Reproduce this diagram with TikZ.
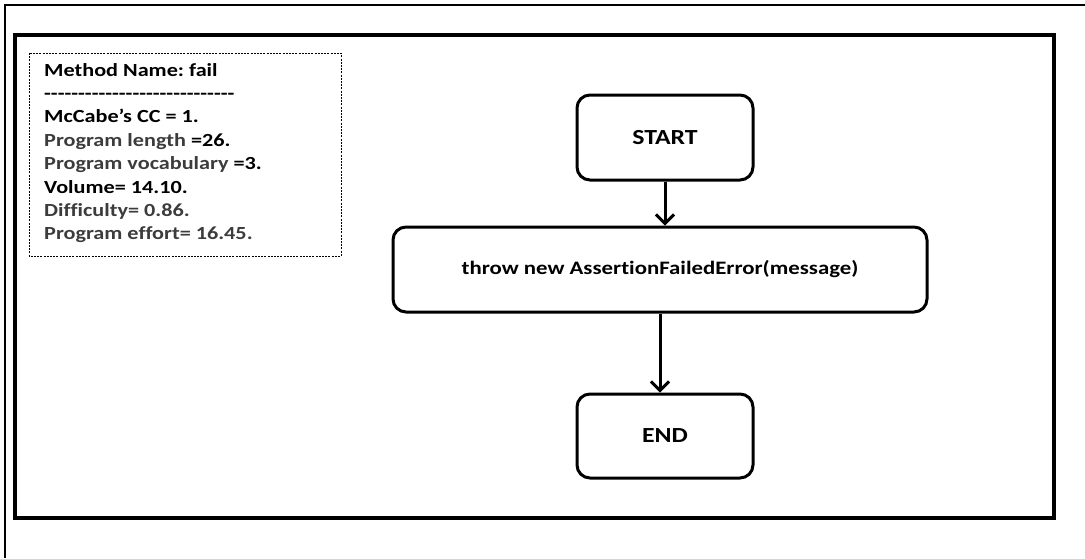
\documentclass[tikz,border=0pt]{standalone}
\usepackage{fontspec}
\setmainfont{Carlito}[Ligatures={TeXOff,NoCommon}, FakeStretch=1.2]
\usetikzlibrary{arrows.meta}
\tikzset{
  flowbox/.style={draw, line width=3pt, rounded corners=13pt, inner sep=0pt},
  flowarrow/.style={line width=3pt, -{Straight Barb[length=9pt,width=18pt,line width=3pt]}},
  infotext/.style={font=\bfseries\fontsize{18.5}{23.4}\selectfont, align=left,
    anchor=north west, inner sep=0pt}
}
\definecolor{lighttext}{HTML}{3C3C3C}
\begin{document}
\begin{tikzpicture}[x=1pt,y=-1pt]
  \useasboundingbox (0,0) rectangle (1085,558);
  % page frame, cut off at right and bottom
  \draw[line width=2pt] (5,558) -- (5,5) -- (1085,5);
  % main panel
  \draw[line width=3.2pt] (15,35) rectangle (1054,518);
  % metrics box
  \draw[line width=0.8pt, dash pattern=on 2pt off 1.2pt] (29,53) rectangle (341,256);
  \node[infotext] (info) at (44,63) {Method Name:\ fail\\
    ----------------------------\\
    McCabe’s CC = 1.\\
    {\color{lighttext}Program length }=26.\\
    {\color{lighttext}Program vocabulary }=3.\\
    Volume= 14.10.\\
    {\color{lighttext}Difficulty= 0.86.}\\
    {\color{lighttext}Program effort= 16.45.}};
  % flow chart
  \node[flowbox, minimum width=176pt, minimum height=85pt,
    font=\bfseries\fontsize{21.5}{24}\selectfont] (start) at (665,137.5) {START};
  \node[flowbox, minimum width=534pt, minimum height=85pt,
    font=\bfseries\fontsize{19}{22}\selectfont] (throw) at (660,269.5) {throw new AssertionFailedError(message)};
  \node[flowbox, minimum width=176pt, minimum height=84pt,
    font=\bfseries\fontsize{21.5}{24}\selectfont] (end) at (665,436) {END};
  \draw[flowarrow] (start.south) -- (start.south |- throw.north);
  \draw[flowarrow] (throw.south) -- (throw.south |- end.north);
\end{tikzpicture}
\end{document}
